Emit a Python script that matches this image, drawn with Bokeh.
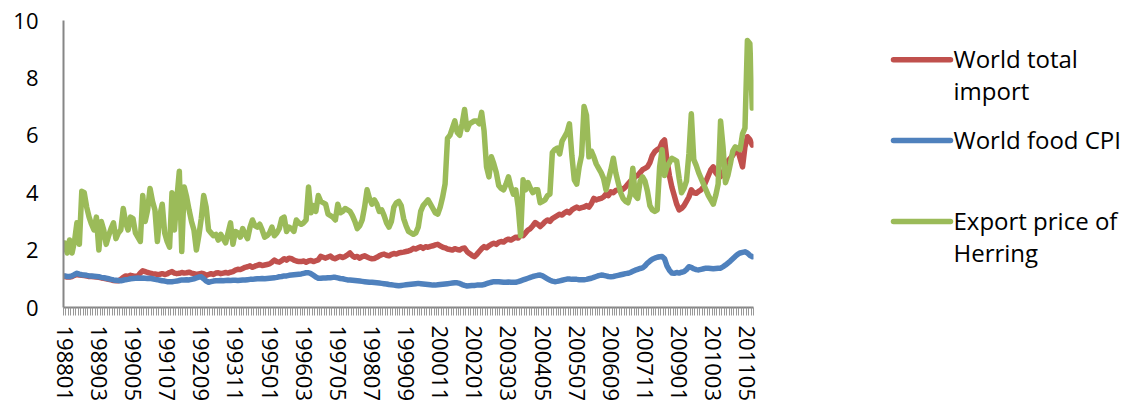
from bokeh.plotting import figure
from bokeh.models import Range1d, FixedTicker
from bokeh.layouts import row
from bokeh.embed import file_html
from bokeh.resources import INLINE
from bokeh.core.properties import value

# ---------------- data ----------------
months = [f"{1988 + i // 12}{i % 12 + 1:02d}" for i in range(283)]  # 198801 .. 201107

tick_labels = ["198801", "198903", "199005", "199107", "199209", "199311", "199501",
               "199603", "199705", "199807", "199909", "200011", "200201", "200303",
               "200405", "200507", "200609", "200711", "200901", "201003", "201105"]

series_names = ["World total import", "World food CPI", "Export price of Herring"]
legend_lines = [["World total", "import"], ["World food CPI"], ["Export price of", "Herring"]]
colors = ["#C0504D", "#4F81BD", "#9BBB59"]

world_total_import = [
    1.08, 1.06, 1.06, 1.08, 1.12, 1.15, 1.13, 1.12, 1.11, 1.10,
    1.08, 1.08, 1.07, 1.06, 1.05, 1.03, 1.02, 1.00, 0.98, 0.96,
    0.94, 0.93, 0.93, 0.98, 1.05, 1.10, 1.08, 1.12, 1.10, 1.08,
    1.10, 1.20, 1.28, 1.25, 1.22, 1.20, 1.18, 1.17, 1.15, 1.16,
    1.18, 1.15, 1.17, 1.22, 1.25, 1.20, 1.18, 1.19, 1.22, 1.20,
    1.21, 1.23, 1.20, 1.18, 1.15, 1.17, 1.19, 1.18, 1.12, 1.15,
    1.18, 1.15, 1.20, 1.21, 1.18, 1.20, 1.22, 1.20, 1.23, 1.25,
    1.30, 1.33, 1.32, 1.36, 1.40, 1.42, 1.45, 1.40, 1.44, 1.47,
    1.50, 1.46, 1.48, 1.50, 1.52, 1.58, 1.65, 1.60, 1.58, 1.63,
    1.70, 1.65, 1.72, 1.70, 1.65, 1.62, 1.60, 1.60, 1.62, 1.58,
    1.62, 1.64, 1.60, 1.63, 1.66, 1.78, 1.75, 1.72, 1.76, 1.79,
    1.72, 1.70, 1.75, 1.78, 1.74, 1.78, 1.83, 1.90, 1.80, 1.75,
    1.78, 1.72, 1.77, 1.80, 1.76, 1.72, 1.70, 1.71, 1.75, 1.80,
    1.84, 1.86, 1.82, 1.80, 1.85, 1.88, 1.86, 1.90, 1.92, 1.93,
    1.95, 1.97, 2.00, 2.06, 2.04, 2.08, 2.12, 2.06, 2.12, 2.10,
    2.13, 2.15, 2.18, 2.20, 2.15, 2.10, 2.08, 2.04, 2.02, 2.00,
    2.05, 2.02, 2.00, 2.06, 2.07, 1.95, 1.88, 1.82, 1.77, 1.85,
    1.95, 2.05, 2.12, 2.08, 2.15, 2.20, 2.24, 2.20, 2.27, 2.30,
    2.28, 2.35, 2.38, 2.35, 2.40, 2.45, 2.42, 2.53, 2.50, 2.60,
    2.70, 2.75, 2.85, 2.96, 2.90, 2.82, 2.90, 2.99, 3.05, 3.00,
    3.10, 3.15, 3.20, 3.25, 3.22, 3.30, 3.35, 3.30, 3.40, 3.45,
    3.50, 3.45, 3.48, 3.50, 3.55, 3.50, 3.62, 3.80, 3.75, 3.78,
    3.80, 3.85, 3.95, 3.90, 4.03, 4.00, 4.08, 4.10, 4.15, 4.12,
    4.20, 4.30, 4.40, 4.45, 4.56, 4.60, 4.70, 4.80, 4.85, 4.90,
    5.05, 5.30, 5.43, 5.50, 5.55, 5.75, 5.84, 5.14, 4.60, 4.20,
    3.90, 3.60, 3.40, 3.45, 3.55, 3.70, 3.85, 4.10, 4.00, 3.98,
    4.05, 4.10, 4.20, 4.40, 4.60, 4.80, 4.90, 4.70, 4.60, 4.56,
    4.70, 4.90, 5.10, 5.20, 5.30, 5.45, 5.50, 5.20, 4.90, 5.60,
    5.95, 5.85, 5.66,
]

world_food_cpi = [
    1.10, 1.08, 1.08, 1.10, 1.15, 1.19, 1.16, 1.14, 1.13, 1.12,
    1.10, 1.10, 1.09, 1.08, 1.07, 1.05, 1.04, 1.02, 1.00, 0.98,
    0.96, 0.95, 0.94, 0.93, 0.95, 0.97, 0.98, 1.00, 1.01, 1.02,
    1.03, 1.02, 1.03, 1.02, 1.01, 1.02, 1.00, 0.98, 0.97, 0.95,
    0.93, 0.92, 0.90, 0.90, 0.90, 0.91, 0.92, 0.94, 0.96, 0.96,
    0.97, 0.96, 0.98, 1.00, 1.03, 1.06, 1.07, 1.00, 0.92, 0.88,
    0.90, 0.92, 0.93, 0.93, 0.94, 0.93, 0.94, 0.95, 0.94, 0.95,
    0.95, 0.94, 0.95, 0.96, 0.96, 0.97, 0.98, 0.98, 0.99, 1.00,
    1.00, 1.01, 1.00, 1.01, 1.02, 1.03, 1.04, 1.05, 1.07, 1.08,
    1.10, 1.10, 1.12, 1.13, 1.14, 1.15, 1.16, 1.17, 1.19, 1.21,
    1.21, 1.18, 1.12, 1.06, 1.02, 1.02, 1.03, 1.03, 1.04, 1.04,
    1.05, 1.05, 1.03, 1.01, 1.00, 0.98, 0.96, 0.96, 0.95, 0.94,
    0.93, 0.92, 0.91, 0.90, 0.89, 0.88, 0.88, 0.87, 0.86, 0.85,
    0.84, 0.83, 0.82, 0.80, 0.79, 0.78, 0.77, 0.76, 0.77, 0.78,
    0.79, 0.80, 0.81, 0.82, 0.83, 0.84, 0.83, 0.82, 0.81, 0.80,
    0.79, 0.78, 0.78, 0.79, 0.80, 0.81, 0.82, 0.83, 0.84, 0.85,
    0.86, 0.86, 0.84, 0.80, 0.77, 0.75, 0.76, 0.77, 0.77, 0.78,
    0.78, 0.78, 0.80, 0.83, 0.86, 0.88, 0.90, 0.90, 0.90, 0.89,
    0.88, 0.88, 0.89, 0.88, 0.88, 0.88, 0.90, 0.93, 0.96, 0.99,
    1.02, 1.05, 1.08, 1.10, 1.12, 1.13, 1.10, 1.05, 1.00, 0.95,
    0.92, 0.90, 0.91, 0.93, 0.95, 0.97, 0.99, 0.99, 0.98, 0.98,
    0.98, 0.97, 0.97, 0.97, 0.98, 1.00, 1.02, 1.05, 1.08, 1.11,
    1.13, 1.12, 1.10, 1.08, 1.07, 1.08, 1.10, 1.12, 1.14, 1.16,
    1.18, 1.19, 1.22, 1.26, 1.30, 1.33, 1.36, 1.38, 1.45, 1.55,
    1.62, 1.68, 1.72, 1.75, 1.77, 1.78, 1.70, 1.45, 1.30, 1.20,
    1.19, 1.22, 1.20, 1.23, 1.25, 1.32, 1.42, 1.40, 1.35, 1.32,
    1.31, 1.33, 1.35, 1.37, 1.37, 1.36, 1.35, 1.36, 1.37, 1.37,
    1.42, 1.48, 1.55, 1.62, 1.70, 1.78, 1.85, 1.90, 1.92, 1.94,
    1.90, 1.82, 1.77,
]

export_price_herring = [
    2.25, 1.90, 2.35, 1.90, 2.30, 2.95, 2.20, 4.05, 4.00, 3.50,
    3.15, 2.90, 2.70, 3.15, 2.00, 3.00, 2.70, 2.20, 2.50, 2.75,
    2.95, 2.40, 2.60, 2.70, 3.45, 2.95, 2.70, 3.15, 3.10, 2.60,
    2.45, 2.30, 3.90, 3.00, 3.40, 4.15, 3.70, 3.40, 2.30, 3.20,
    3.60, 2.60, 2.30, 2.10, 4.00, 2.70, 3.80, 4.75, 1.95, 4.20,
    3.85, 3.40, 3.00, 2.70, 2.00, 2.50, 3.10, 3.90, 3.50, 2.70,
    2.60, 2.50, 2.55, 2.35, 2.55, 2.40, 2.25, 2.60, 2.95, 2.20,
    2.65, 2.60, 2.45, 2.75, 2.55, 2.40, 2.80, 3.05, 2.85, 2.80,
    2.90, 2.70, 2.45, 2.50, 2.60, 2.80, 2.50, 2.60, 2.75, 3.10,
    3.15, 2.65, 2.80, 2.75, 2.65, 3.05, 2.95, 2.90, 2.95, 3.05,
    4.20, 3.30, 3.55, 3.35, 3.90, 3.70, 3.65, 3.60, 3.25, 3.20,
    3.15, 3.05, 3.60, 3.30, 3.35, 3.45, 3.40, 3.35, 3.20, 3.00,
    2.75, 2.85, 3.05, 3.50, 4.10, 3.80, 3.60, 3.75, 3.60, 3.35,
    3.40, 3.20, 2.95, 2.80, 3.00, 3.50, 3.65, 3.70, 3.55, 3.10,
    2.85, 2.65, 2.60, 2.55, 2.60, 2.80, 3.35, 3.55, 3.65, 3.75,
    3.60, 3.45, 3.30, 3.25, 3.50, 3.85, 4.30, 5.90, 6.00, 6.25,
    6.50, 6.10, 6.00, 6.40, 6.90, 6.20, 6.40, 6.45, 6.50, 6.50,
    6.40, 6.80, 6.15, 4.90, 4.55, 5.25, 5.00, 4.70, 4.25, 4.15,
    4.10, 4.30, 4.55, 4.20, 3.95, 4.10, 3.50, 2.50, 4.45, 4.10,
    4.35, 4.15, 4.00, 4.10, 4.10, 3.65, 3.70, 3.75, 3.90, 3.95,
    5.40, 5.50, 5.55, 5.35, 5.80, 5.95, 6.10, 6.40, 5.30, 4.45,
    4.30, 4.90, 5.30, 7.00, 6.70, 5.25, 5.45, 5.25, 5.00, 4.85,
    4.70, 4.50, 4.10, 4.45, 4.80, 5.20, 4.70, 4.35, 4.00, 3.80,
    3.70, 3.65, 3.95, 4.85, 3.90, 3.80, 4.40, 4.55, 4.40, 4.05,
    3.55, 3.40, 3.35, 3.40, 4.90, 5.50, 4.60, 4.90, 5.05, 5.20,
    5.15, 5.10, 4.50, 4.00, 4.15, 4.40, 5.35, 6.75, 5.15, 4.95,
    4.70, 4.50, 4.30, 4.10, 3.90, 3.75, 3.60, 3.90, 4.30, 6.50,
    5.60, 4.35, 4.60, 5.00, 5.45, 5.60, 5.55, 5.50, 6.05, 6.25,
    9.30, 9.20, 6.95,
]

y_ticks = [0, 2, 4, 6, 8, 10]

# ---------------- main chart ----------------
FONT = "Open Sans"
AXIS_GREY = "#868686"
TEXT = "#000000"
TOP, FRAME_H, BOTTOM = 20, 287, 97

x = list(range(len(months)))
tick_pos = [months.index(t) for t in tick_labels]

p = figure(frame_width=690, frame_height=FRAME_H,
           x_range=Range1d(-0.5, len(months) - 0.5), y_range=Range1d(0, 10),
           output_backend="svg", toolbar_location=None,
           min_border_left=63, min_border_right=15, min_border_top=TOP, min_border_bottom=BOTTOM)

for vals, col in zip([world_total_import, world_food_cpi, export_price_herring], colors):
    p.line(x, vals, line_color=col, line_width=5.5, line_join="round", line_cap="round")

p.xgrid.visible = False
p.ygrid.visible = False
p.outline_line_color = None
p.background_fill_color = "white"
p.border_fill_color = "white"

xa = p.xaxis[0]
xa.ticker = FixedTicker(ticks=tick_pos, minor_ticks=[i - 0.5 for i in range(len(months) + 1)])
xa.major_label_overrides = {pos: lab for pos, lab in zip(tick_pos, tick_labels)}
xa.major_label_orientation = "vertical"
xa.major_tick_line_color = None
xa.major_tick_out = 8
xa.major_tick_in = 0
xa.minor_tick_out = 8
xa.minor_tick_in = 0
xa.minor_tick_line_color = "#999999"
xa.minor_tick_line_width = 1
xa.axis_line_color = AXIS_GREY
xa.axis_line_width = 2
xa.major_label_text_font = FONT
xa.major_label_text_font_size = "22px"
xa.major_label_text_color = TEXT
xa.major_label_standoff = 10

ya = p.yaxis[0]
ya.ticker = FixedTicker(ticks=y_ticks)
ya.major_tick_out = 0
ya.major_tick_in = 0
ya.minor_tick_out = 0
ya.minor_tick_in = 0
ya.axis_line_color = AXIS_GREY
ya.axis_line_width = 2
ya.major_label_text_font = FONT
ya.major_label_text_font_size = "22px"
ya.major_label_text_color = TEXT
ya.major_label_standoff = 25

# ---------------- legend panel ----------------
# The row aligns this panel's frame with the chart frame (page y 20..307),
# so its y range is expressed directly in page pixels.
LW = 354
leg = figure(width=LW, height=TOP + FRAME_H + BOTTOM,
             x_range=Range1d(0, LW), y_range=Range1d(TOP + FRAME_H, TOP),
             output_backend="svg", toolbar_location=None, min_border=0,
             x_axis_location=None, y_axis_location=None)
leg.xgrid.visible = False
leg.ygrid.visible = False
leg.outline_line_color = None
leg.background_fill_color = "white"
leg.border_fill_color = "white"

line_y = [59.3, 140, 221]
leg.segment(x0=[125] * 3, y0=line_y, x1=[182] * 3, y1=line_y,
            line_color=colors, line_width=5.5, line_cap="round")

text_rows, text_y = [], []
baselines = [[57.5, 89.5], [138.5], [219.5, 251.5]]
for lines, ys in zip(legend_lines, baselines):
    text_rows += lines
    text_y += ys
leg.text(x=[185] * len(text_rows), y=text_y, text=text_rows,
         text_font=value(FONT), text_font_size="24px", text_color=TEXT,
         text_baseline="alphabetic", text_align="left")

layout = row(p, leg)
open("out.html", "w").write(file_html(layout, INLINE))
